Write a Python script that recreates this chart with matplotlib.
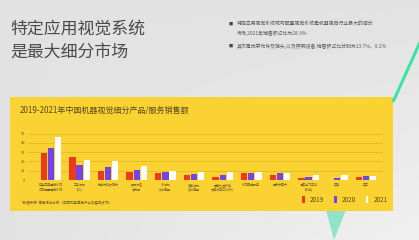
import numpy as np
import matplotlib
matplotlib.use("Agg")
import matplotlib.pyplot as plt
from matplotlib.patches import Rectangle, Polygon

plt.rcParams['font.family'] = ['Noto Sans CJK SC', 'DejaVu Sans']

# data (sales, 10^8 yuan)
categories = ["特定应用视觉系统\n或可配置视觉系统", "工业相机\n(2D)", "光学元件及镜头", "照明设备\n及光源",
              "3D相机\n及传感器", "智能相机\n及传感器", "视觉处理软件\n及算法平台(SDK)", "系统集成服务",
              "图像采集卡", "深度学习平台\n(软件)", "其他", "其它"]
years = ["2019", "2020", "2021"]
v2019 = [29, 25, 10, 9, 7.5, 5.4, 3.6, 7.5, 5.4, 1.8, 0.4, 3.2]
v2020 = [35, 16, 13.7, 11, 9, 6.5, 5.4, 8, 7.2, 3.2, 1.8, 4.3]
v2021 = [46, 22, 20.5, 14.7, 10, 8.6, 8.3, 8.3, 7.2, 5.4, 5.4, 4.3]
yticks = [0, 10, 20, 30, 40, 50]

W, H = 419, 240
fig = plt.figure(figsize=(W / 100, H / 100), dpi=100)

# slide background, a touch lighter towards the lower right
bg = fig.add_axes([0, 0, 1, 1])
gx, gy = np.meshgrid(np.linspace(0, 1, 200), np.linspace(0, 1, 120))
bg.imshow(0.885 + 0.055 * gx * gy, cmap='gray', vmin=0, vmax=1, extent=[0, W, 0, H],
          origin='lower', aspect='auto')
bg.set_xlim(0, W)
bg.set_ylim(H, 0)
bg.axis('off')

# decorative green stroke and teal triangle
bg.plot([421, 393], [40, 102], color='#3ee3a4', lw=2.2, solid_capstyle='butt')
bg.add_patch(Polygon([[326, 210], [346, 210], [334, 240]], closed=True, color='#8fe3c9', lw=0))

# yellow chart panel
bg.add_patch(Rectangle((10, 97), 383, 114, color='#fad232', lw=0))

# slide heading and bullets
bg.text(10, 29, "特定应用视觉系统", fontsize=12.2, color='#4a4a4a', va='center')
bg.text(10, 52, "是最大细分市场", fontsize=12.2, color='#4a4a4a', va='center')
bullet1 = "特定应用视觉系统或可配置视觉系统是机器视觉行业最大的细分"
bullet1b = "市场,2021年销售额占比为28.3%"
bullet2 = "其次是光学元件及镜头,以及照明设备,销售额占比分别为13.7%、9.2%"
bg.text(229, 24, "■", fontsize=3, color='#444444', va='center')
bg.text(237, 24, bullet1, fontsize=3.5, color='#5a5a5a', va='center')
bg.text(237, 33, bullet1b, fontsize=3.5, color='#5a5a5a', va='center')
bg.text(229, 46, "■", fontsize=3, color='#444444', va='center')
bg.text(237, 46, bullet2, fontsize=3.5, color='#5a5a5a', va='center')

# chart title and footnote
bg.text(20, 110, "2019-2021年中国机器视觉细分产品/服务销售额", fontsize=5.8, color='#5a4a20', va='center')
bg.text(21, 203, "*数据来源: 视觉行业协会《中国机器视觉产业发展白皮书》", fontsize=2.5, color='#6a5a30', va='center')

# bar chart
ax = fig.add_axes([28 / W, 1 - 180 / H, (383 - 28) / W, (180 - 133.7) / H])
ax.patch.set_alpha(0)
x = np.arange(len(categories))
bw = 0.22
colors = ['#ec3a1e', '#7445e6', '#ffffff']
for i, (vals, c) in enumerate(zip([v2019, v2020, v2021], colors)):
    ax.bar(x + (i - 1) * 0.25, vals, bw, color=c, label=years[i], zorder=3)

ax.set_ylim(0, 50)
ax.set_xlim(-0.8, 11.6)
ax.set_yticks(yticks)
ax.set_yticklabels([str(t) for t in yticks], fontsize=2.8, color='#6a5a30')
ax.set_xticks(x)
ax.set_xticklabels(categories, fontsize=2.2, color='#6a5a30', linespacing=1.3)
ax.tick_params(length=0, pad=2)
ax.grid(axis='y', color='#e3b928', lw=0.6, zorder=0)
for s in ax.spines.values():
    s.set_visible(False)
ax.axhline(0, color='#9a8a60', lw=0.5, zorder=4)

leg = ax.legend(loc='center', bbox_to_anchor=(345 / W, 1 - 200 / H), bbox_transform=fig.transFigure,
                ncol=3, frameon=False, fontsize=4.6, handlelength=0.35, handleheight=1.3,
                columnspacing=1.6, handletextpad=0.8)
for t in leg.get_texts():
    t.set_color('#5a4a20')

fig.savefig("out.png", dpi=100)
